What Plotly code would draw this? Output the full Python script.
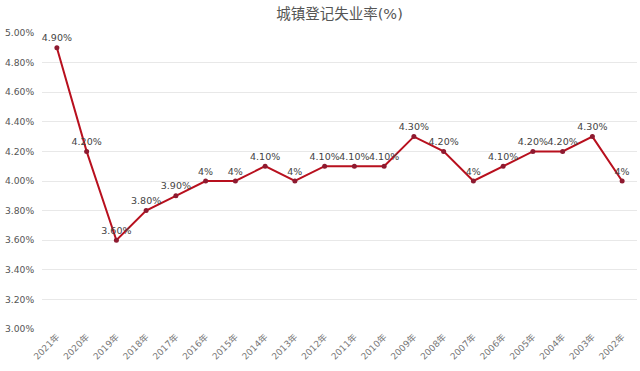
import plotly.graph_objects as go

years = ["2021年", "2020年", "2019年", "2018年", "2017年", "2016年", "2015年", "2014年", "2013年", "2012年",
         "2011年", "2010年", "2009年", "2008年", "2007年", "2006年", "2005年", "2004年", "2003年", "2002年"]
rates = [4.9, 4.2, 3.6, 3.8, 3.9, 4.0, 4.0, 4.1, 4.0, 4.1,
         4.1, 4.1, 4.3, 4.2, 4.0, 4.1, 4.2, 4.2, 4.3, 4.0]
labels = ["4%" if abs(v - round(v)) < 1e-9 else f"{v:.2f}%" for v in rates]
y_ticks = [3.0, 3.2, 3.4, 3.6, 3.8, 4.0, 4.2, 4.4, 4.6, 4.8, 5.0]

num_font = "DejaVu Sans, Verdana, sans-serif"
cjk_font = "DejaVu Sans, Noto Sans CJK SC, sans-serif"

fig = go.Figure(go.Scatter(
    x=years, y=rates, mode="lines+markers+text",
    text=labels, textposition="top center",
    textfont=dict(size=9.5, color="#444", family=num_font),
    line=dict(color="#b8101e", width=2),
    marker=dict(color="#8e1a30", size=5),
    cliponaxis=False,
))

fig.update_layout(
    width=640, height=371,
    margin=dict(l=42, r=3, t=33, b=42),
    paper_bgcolor="white", plot_bgcolor="white",
    title=dict(text="城镇登记失业率(%)", x=0.5, xanchor="center", xref="paper",
               y=0.975, yanchor="top",
               font=dict(size=14.5, color="#555", family=cjk_font)),
    showlegend=False,
    font=dict(family=num_font, color="#555"),
)
fig.update_xaxes(tickangle=-45, tickfont=dict(size=9, color="#777", family=cjk_font), showgrid=False,
                 showline=False, ticks="", range=[-0.5, 19.5], automargin=False)
fig.update_yaxes(range=[3.0, 5.0], tickvals=y_ticks, ticktext=[f"{v:.2f}%" for v in y_ticks],
                 tickfont=dict(size=9.2, color="#555", family=num_font), gridcolor="#e8e8e8", gridwidth=1,
                 zeroline=False, showline=False, ticks="outside", ticklen=5, tickcolor="rgba(0,0,0,0)",
                 automargin=False)

fig.write_html("out.html", config={"displayModeBar": False},
               post_script="document.body.style.margin='0px';")
